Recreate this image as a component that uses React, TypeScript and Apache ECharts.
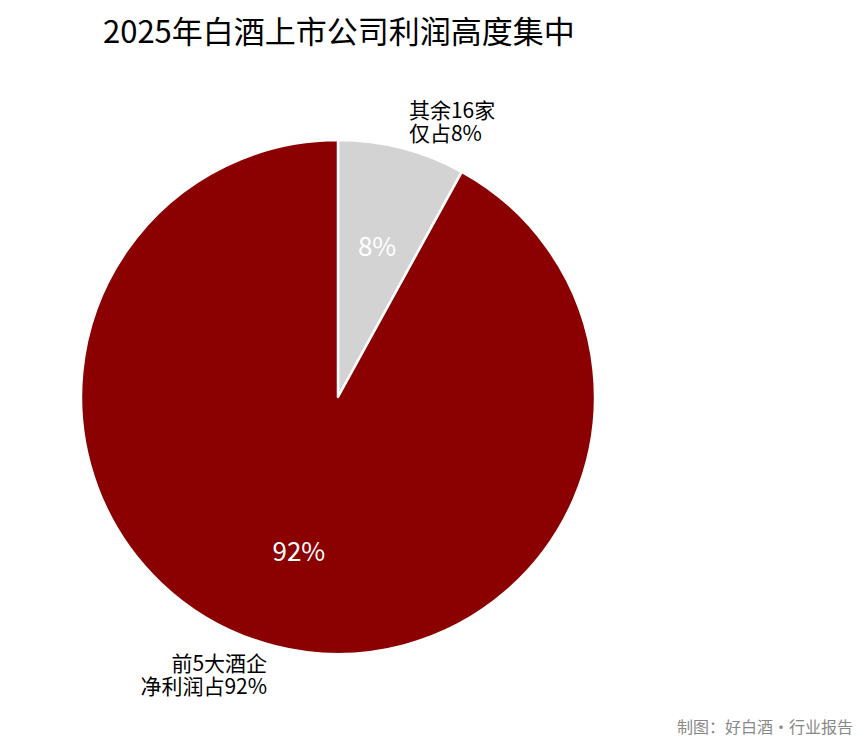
import { useEffect, useRef } from 'react';
import * as echarts from 'echarts';

const FONT = '"Noto Sans CJK SC", "Noto Sans", sans-serif';

// slice data, clockwise from 12 o'clock
const sliceNames = ['其余16家', '前5大酒企'];
const sliceValues = [8, 92];
const sliceColors = ['#D3D3D3', '#8B0000'];
const outerLabels = ['其余16家\n仅占8%', '前5大酒企\n净利润占92%'];

const titleText = '2025年白酒上市公司利润高度集中';
const footerText = '制图：好白酒·行业报告';

const App: React.FC = () => {
    const chartRef = useRef<HTMLDivElement>(null);

    useEffect(() => {
        document.body.style.margin = '0';
        if (!chartRef.current) return;
        const chart = echarts.init(chartRef.current, undefined, { renderer: 'svg' });

        const cx = 338;
        const cy = 397;
        const r = 257;

        const pieData = sliceNames.map((name, i) => ({
            name,
            value: sliceValues[i],
            itemStyle: { color: sliceColors[i] },
        }));

        const option: echarts.EChartsOption = {
            animation: false,
            backgroundColor: '#fff',
            title: {
                text: titleText,
                left: 98,
                top: 9,
                textStyle: { fontFamily: FONT, fontSize: 31, fontWeight: 'normal', color: '#000' },
            },
            graphic: [
                {
                    type: 'text',
                    right: 14,
                    top: 718,
                    style: { text: footerText, fontFamily: FONT, fontSize: 16, fill: '#888' },
                },
            ],
            series: [
                {
                    type: 'pie',
                    center: [cx, cy],
                    radius: [0, r],
                    startAngle: 90,
                    clockwise: true,
                    avoidLabelOverlap: false,
                    itemStyle: { borderColor: '#fff', borderWidth: 2.5 },
                    label: {
                        show: true,
                        position: 'outside',
                        distanceToLabelLine: 0,
                        formatter: (p: any) => outerLabels[p.dataIndex],
                        fontFamily: FONT,
                        fontSize: 21,
                        lineHeight: 23,
                        color: '#000',
                    },
                    labelLine: { show: false, length: 28, length2: 0 },
                    emphasis: { disabled: true },
                    data: pieData,
                },
                {
                    // transparent copy so the percent labels sit at 0.6 r
                    type: 'pie',
                    center: [cx, cy],
                    radius: [0, r * 1.2],
                    startAngle: 90,
                    clockwise: true,
                    silent: true,
                    z: 3,
                    itemStyle: { color: 'rgba(0,0,0,0)', borderWidth: 0 },
                    label: {
                        show: true,
                        position: 'inside',
                        formatter: '{c}%',
                        fontFamily: FONT,
                        fontSize: 26,
                        color: '#fff',
                    },
                    labelLine: { show: false },
                    emphasis: { disabled: true },
                    data: sliceNames.map((name, i) => ({ name, value: sliceValues[i] })),
                },
            ],
        };

        chart.setOption(option);
        return () => chart.dispose();
    }, []);

    return <div ref={chartRef} style={{ width: '867px', height: '752px' }} />;
};

export default App;
